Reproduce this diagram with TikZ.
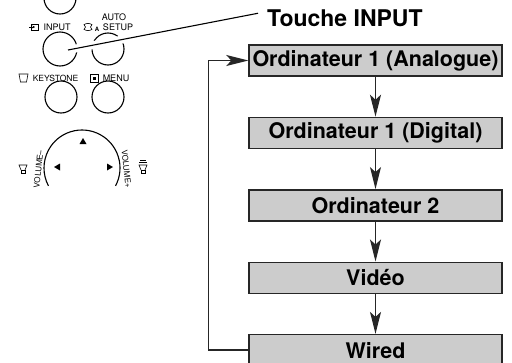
\documentclass[tikz,border=0pt]{standalone}
\usepackage{fontspec}
\setsansfont{TeX Gyre Heros}
\usepackage{tikz}
\usetikzlibrary{arrows.meta}
\usetikzlibrary{calc}
\usetikzlibrary{positioning}

\begin{document}
\begin{tikzpicture}[
		x=1pt,
		y=-1pt,
		/utils/exec={\sffamily},
		font=\fontsize{9pt}{9.5pt}\selectfont,
		>={Stealth[length=22pt,width=11pt,inset=5pt]},
	]
		\tikzset{source/.style={
			draw=black!85,
			fill=black!20,
			line width=1.4,
			rectangle,
			minimum width=253,
			minimum height=31,
			inner sep=1,
			font=\fontsize{21.5pt}{22pt}\selectfont\bfseries,
		}}
		\tikzset{button/.style={
			draw,
			circle,
			line width=1.1,
			minimum size=32,
			inner sep=0,
		}}
		\tikzset{flow/.style={
			->,
			line width=1.3,
			draw=black!85,
		}}
		\tikzset{icon/.style={
			line width=0.6,
		}}

		\clip (0,0) rectangle (512,362);
		\fill[white] (0,0) rectangle (512,362);

		%---------------------------------
		% Remote buttons
		\node[button] (upper) at (60,-2) {};
		\node[button, minimum size=34] (input) at (60,49) {};
		\node[button] (auto) at (108,49) {};
		\node[button] (keystone) at (61,97) {};
		\node[button] (menu) at (108,97) {};

		\node (inputlabel) at (57,27) {INPUT};
		\draw[icon] (31,24) rectangle (38,30);
		\draw[icon, -{Stealth[length=2.5pt,width=2.5pt]}] (29,27) -- (35,27);

		\node (autolabel) at (114,17) {AUTO};
		\node (setuplabel) at (118,27) {SETUP};
		\draw[icon] (84,24.5) .. controls (88,23) .. (92,24.5) .. controls (90,27) .. (92,29.5)
			.. controls (88,31) .. (84,29.5) .. controls (86,27) .. cycle;
		\node[font=\fontsize{6pt}{6pt}\selectfont\bfseries, inner sep=0] (autoa) at (97,29) {A};

		\node[font=\fontsize{8.5pt}{9pt}\selectfont] (keylabel) at (55.5,78) {KEYSTONE};
		\draw[icon] (19,74) -- (28,74) -- (26.5,82) -- (20.5,82) -- cycle;

		\node (menulabel) at (116,78) {MENU};
		\draw[icon] (90,74) rectangle (98,82);
		\fill (92.5,76.5) rectangle (95.5,79.5);

		%---------------------------------
		% Dial
		\draw[line width=1.1] (82,168) ++(28:38) arc[start angle=28, end angle=-208, radius=38];
		\fill (83,138) -- (79.5,144) -- (86.5,144) -- cycle;
		\fill (54,167) -- (60,163.5) -- (60,170.5) -- cycle;
		\fill (113,167) -- (107,163.5) -- (107,170.5) -- cycle;

		\node[rotate=84, font=\fontsize{8pt}{8pt}\selectfont] (volminus) at (38.5,169) {VOLUME–};
		\node[rotate=-84, font=\fontsize{8pt}{8pt}\selectfont] (volplus) at (126.5,169) {VOLUME+};

		% speakers
		\draw[icon] (21,170) rectangle (25,173);
		\draw[icon] (21,170) -- (19,165) -- (27,165) -- (25,170);
		\draw[icon] (141,170) rectangle (145,173);
		\draw[icon] (141,170) -- (139,165) -- (147,165) -- (145,170);
		\draw[icon] (139,162.5) -- (147,162.5);
		\draw[icon] (140,160) -- (146,160);

		%---------------------------------
		% Label
		\node[
			anchor=base west,
			inner sep=0,
			font=\fontsize{23pt}{24pt}\selectfont\bfseries,
		] (touche) at (267,26.5) {Touche INPUT};

		\coordinate (leadstart) at ($(input.center)+(8,1)$);
		\coordinate (leadtip) at ($(touche.west)+(-9,-5)$);
		\draw[line width=1.1, preaction={draw=white, line width=8}] (leadstart) -- (leadtip);

		%---------------------------------
		% Sources
		\node[source] (analogue) at (375.5,60.5) {Ordinateur 1 (Analogue)};
		\node[source, below=40pt of analogue] (digital) {Ordinateur 1 (Digital)};
		\node[source, below=40pt of digital] (comp2) {Ordinateur 2};
		\node[source, below=40pt of comp2] (video) {Vidéo};
		\node[source, below=40pt of video] (wired) {Wired};

		\draw[flow] (analogue) -- (digital);
		\draw[flow] (digital) -- (comp2);
		\draw[flow] (comp2) -- (video);
		\draw[flow] (video) -- (wired);

		\draw[flow] (wired.west) -- ++(-40pt,0) |- (analogue.west);
	\end{tikzpicture}
\end{document}
